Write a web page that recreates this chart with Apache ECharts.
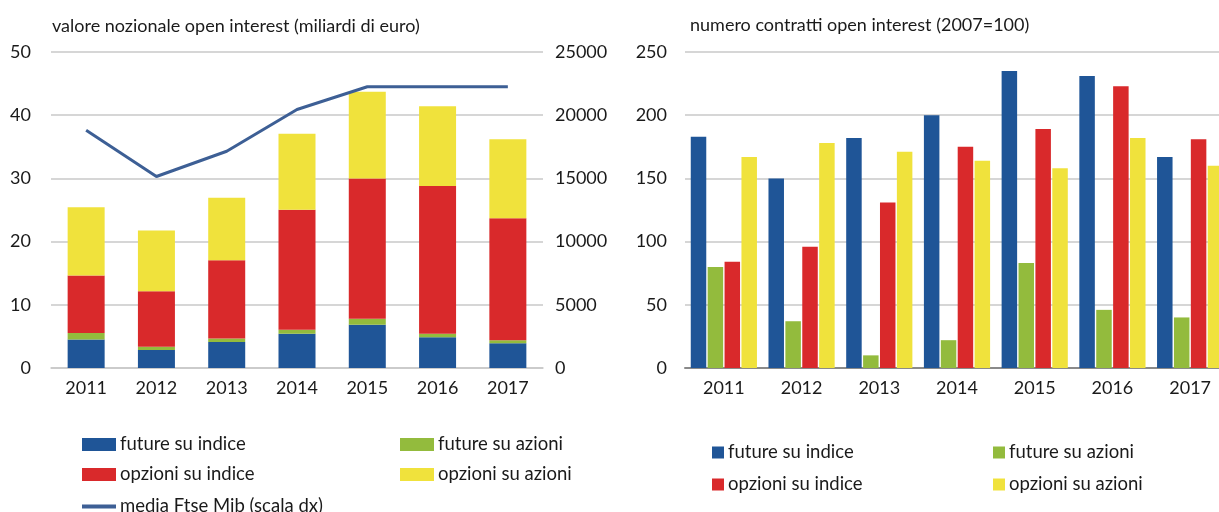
<!DOCTYPE html>
<html>
<head>
<meta charset="utf-8">
<script src="https://cdn.jsdelivr.net/npm/echarts@6/dist/echarts.min.js"></script>
<style>
  html, body { margin: 0; padding: 0; background: #fff; }
  #chart-wrap { width: 1219px; height: 512px; }
</style>
</head>
<body>
<div id="chart-wrap"></div>
<script>
  const years = ['2011', '2012', '2013', '2014', '2015', '2016', '2017']

  // valore nozionale (miliardi di euro)
  const valFutureIndice = [4.5, 2.85, 4.1, 5.4, 6.85, 4.85, 3.9]
  const valFutureAzioni = [1.05, 0.5, 0.55, 0.65, 0.95, 0.55, 0.5]
  const valOpzioniIndice = [9.1, 8.8, 12.4, 19.0, 22.2, 23.4, 19.3]
  const valOpzioniAzioni = [10.8, 9.6, 9.9, 12.0, 13.7, 12.6, 12.5]
  const ftseMib = [18800, 15150, 17150, 20450, 22250, 22250, 22250]

  // numero contratti (2007=100)
  const numFutureIndice = [183, 150, 182, 200, 235, 231, 167]
  const numFutureAzioni = [80, 37, 10, 22, 83, 46, 40]
  const numOpzioniIndice = [84, 96, 131, 175, 189, 223, 181]
  const numOpzioniAzioni = [167, 178, 171, 164, 158, 182, 160]

  const leftTicks = [0, 10, 20, 30, 40, 50]
  const rightTicks = [0, 5000, 10000, 15000, 20000, 25000]
  const numTicks = [0, 50, 100, 150, 200, 250]

  const BLUE = '#1f5597'
  const GREEN = '#93bb3d'
  const RED = '#d9292b'
  const YELLOW = '#f0e23c'
  const LINE = '#3d5f95'
  const TXT = '#1a1a1a'
  const FONT = 'Lato'

  const mychart = echarts.init(document.querySelector('#chart-wrap'), null, { renderer: 'canvas' })

  const axisTxt = { color: TXT, fontSize: 18, fontFamily: FONT, formatter: (v) => String(v) }
  const gridLine = { show: true, lineStyle: { color: '#c8c8c8', width: 1.5 } }

  function legendItem (name, left, top, w, h, icon) {
    return {
      data: [{ name: name, icon: icon }],
      left: left,
      top: top,
      itemWidth: w,
      itemHeight: h,
      itemGap: 4,
      padding: 0,
      selectedMode: false,
      textStyle: { color: TXT, fontSize: 18.5, fontFamily: FONT, padding: [0, 0, 0, -1] }
    }
  }

  const options = {
    animation: false,
    backgroundColor: '#fff',
    title: [
      { text: 'valore nozionale open interest (miliardi di euro)', left: 52, top: 17, padding: 0, textStyle: { color: TXT, fontSize: 18, fontWeight: 'normal', fontFamily: FONT } },
      { text: 'numero contratti open interest (2007=100)', left: 690, top: 16, padding: 0, textStyle: { color: TXT, fontSize: 18, fontWeight: 'normal', fontFamily: FONT } }
    ],
    legend: [
      legendItem('future su indice', 82, 435, 34, 13, 'rect'),
      legendItem('future su azioni', 400, 435, 34, 13, 'rect'),
      legendItem('opzioni su indice', 82, 465, 34, 13, 'rect'),
      legendItem('opzioni su azioni', 400, 465, 34, 13, 'rect'),
      legendItem('media Ftse Mib (scala dx)', 82, 497, 34, 13, 'path://M0,4.5 L34,4.5 L34,8.5 L0,8.5 Z'),
      legendItem('future su indice ', 712, 443, 12, 12, 'rect'),
      legendItem('future su azioni ', 993, 443, 12, 12, 'rect'),
      legendItem('opzioni su indice ', 712, 475, 12, 12, 'rect'),
      legendItem('opzioni su azioni ', 993, 475, 12, 12, 'rect')
    ],
    grid: [
      { left: 51, width: 492, top: 52, bottom: 144, outerBoundsMode: 'none' },
      { left: 685, width: 544, top: 52, bottom: 144, outerBoundsMode: 'none' }
    ],
    xAxis: [
      {
        type: 'category', gridIndex: 0, data: years,
        axisLine: { lineStyle: { color: '#c8c8c8', width: 1.5 } },
        axisTick: { show: false },
        axisLabel: Object.assign({}, axisTxt, { margin: 11 })
      },
      {
        type: 'category', gridIndex: 1, data: years,
        axisLine: { lineStyle: { color: '#8a8a8a', width: 2 } },
        axisTick: { show: false },
        axisLabel: Object.assign({}, axisTxt, { margin: 11 })
      }
    ],
    yAxis: [
      {
        type: 'value', gridIndex: 0, min: leftTicks[0], max: leftTicks[leftTicks.length - 1], interval: 10,
        axisLine: { show: false }, axisTick: { show: false },
        axisLabel: Object.assign({}, axisTxt, { margin: 20 }),
        splitLine: gridLine
      },
      {
        type: 'value', gridIndex: 0, position: 'right', min: rightTicks[0], max: rightTicks[rightTicks.length - 1], interval: 5000,
        axisLine: { show: false }, axisTick: { show: false },
        axisLabel: Object.assign({}, axisTxt, { margin: 12 }),
        splitLine: { show: false }
      },
      {
        type: 'value', gridIndex: 1, min: numTicks[0], max: numTicks[numTicks.length - 1], interval: 50,
        axisLine: { show: false }, axisTick: { show: false },
        axisLabel: Object.assign({}, axisTxt, { margin: 18 }),
        splitLine: gridLine
      }
    ],
    series: [
      { name: 'future su indice', type: 'bar', stack: 'val', xAxisIndex: 0, yAxisIndex: 0, barWidth: 37, data: valFutureIndice, itemStyle: { color: BLUE } },
      { name: 'future su azioni', type: 'bar', stack: 'val', xAxisIndex: 0, yAxisIndex: 0, barWidth: 37, data: valFutureAzioni, itemStyle: { color: GREEN } },
      { name: 'opzioni su indice', type: 'bar', stack: 'val', xAxisIndex: 0, yAxisIndex: 0, barWidth: 37, data: valOpzioniIndice, itemStyle: { color: RED } },
      { name: 'opzioni su azioni', type: 'bar', stack: 'val', xAxisIndex: 0, yAxisIndex: 0, barWidth: 37, data: valOpzioniAzioni, itemStyle: { color: YELLOW } },
      { name: 'media Ftse Mib (scala dx)', type: 'line', xAxisIndex: 0, yAxisIndex: 1, data: ftseMib, symbol: 'none', lineStyle: { color: LINE, width: 3 }, itemStyle: { color: LINE }, z: 5 },

      { name: 'future su indice ', type: 'bar', xAxisIndex: 1, yAxisIndex: 2, barWidth: 15.5, barGap: '9%', data: numFutureIndice, itemStyle: { color: BLUE } },
      { name: 'future su azioni ', type: 'bar', xAxisIndex: 1, yAxisIndex: 2, barWidth: 15.5, barGap: '9%', data: numFutureAzioni, itemStyle: { color: GREEN } },
      { name: 'opzioni su indice ', type: 'bar', xAxisIndex: 1, yAxisIndex: 2, barWidth: 15.5, barGap: '9%', data: numOpzioniIndice, itemStyle: { color: RED } },
      { name: 'opzioni su azioni ', type: 'bar', xAxisIndex: 1, yAxisIndex: 2, barWidth: 15.5, barGap: '9%', data: numOpzioniAzioni, itemStyle: { color: YELLOW } }
    ]
  }
  mychart.setOption(options)
</script>
</body>
</html>
